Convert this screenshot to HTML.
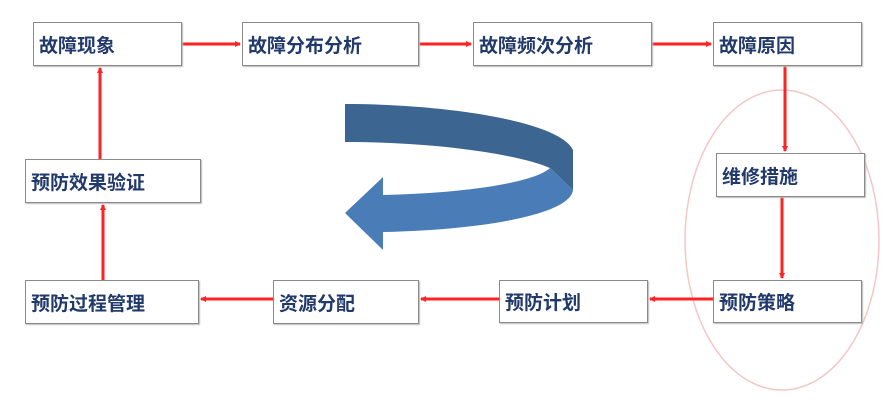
<!DOCTYPE html>
<html><head><meta charset="utf-8"><style>
body{margin:0;width:884px;height:400px;background:#fff;position:relative;overflow:hidden;font-family:"Liberation Sans","Noto Sans CJK SC",sans-serif}
.b{position:absolute;box-sizing:border-box;border:1.5px solid #8a8a8a;background:#fff;box-shadow:1px 1px 1px #bbb;font-weight:bold;font-size:19px;color:#213a6b;padding-left:5px;display:flex;align-items:center;white-space:nowrap}
svg{position:absolute;left:0;top:0}
</style></head><body>
<svg width="884" height="400">
<defs><marker id="a" markerWidth="6" markerHeight="6" refX="5" refY="3" orient="auto" markerUnits="userSpaceOnUse"><path d="M0,0 L6,3 L0,6z" fill="#f22"/></marker></defs>
<ellipse cx="782" cy="240" rx="97" ry="150" fill="none" stroke="#f6c6c6" stroke-width="1.5"/>
<path d="M345,104 C450,104 560,122 573,150 L573,190 L550,168 C520,155 440,142 345,142 Z" fill="#3d6591"/>
<path d="M550,168 L573,190 C570,215 480,230 383,232 L383,250 L345,213 L383,177 L383,195 C470,193 535,182 550,168 Z" fill="#4a7db8"/>
<g stroke="#f22" stroke-width="3" fill="none" marker-end="url(#a)">
<line x1="182" y1="44" x2="240" y2="44"/>
<line x1="419" y1="44" x2="471" y2="44"/>
<line x1="652" y1="44" x2="711" y2="44"/>
<line x1="785" y1="66" x2="785" y2="151"/>
<line x1="782" y1="197" x2="782" y2="278"/>
<line x1="713" y1="299" x2="650" y2="299"/>
<line x1="499" y1="299" x2="421" y2="299"/>
<line x1="273" y1="299" x2="201" y2="299"/>
<line x1="103" y1="280" x2="103" y2="205"/>
<line x1="100" y1="159" x2="100" y2="68"/>
</g>
</svg>
<div class="b" style="left:33px;top:22px;width:149px;height:44px">故障现象</div>
<div class="b" style="left:242px;top:22px;width:177px;height:44px">故障分布分析</div>
<div class="b" style="left:473px;top:22px;width:179px;height:44px">故障频次分析</div>
<div class="b" style="left:713px;top:22px;width:149px;height:44px">故障原因</div>
<div class="b" style="left:716px;top:153px;width:149px;height:44px">维修措施</div>
<div class="b" style="left:713px;top:280px;width:149px;height:43px">预防策略</div>
<div class="b" style="left:499px;top:280px;width:149px;height:43px">预防计划</div>
<div class="b" style="left:273px;top:280px;width:146px;height:44px">资源分配</div>
<div class="b" style="left:25px;top:280px;width:174px;height:44px">预防过程管理</div>
<div class="b" style="left:25px;top:159px;width:176px;height:44px">预防效果验证</div>
</body></html>
